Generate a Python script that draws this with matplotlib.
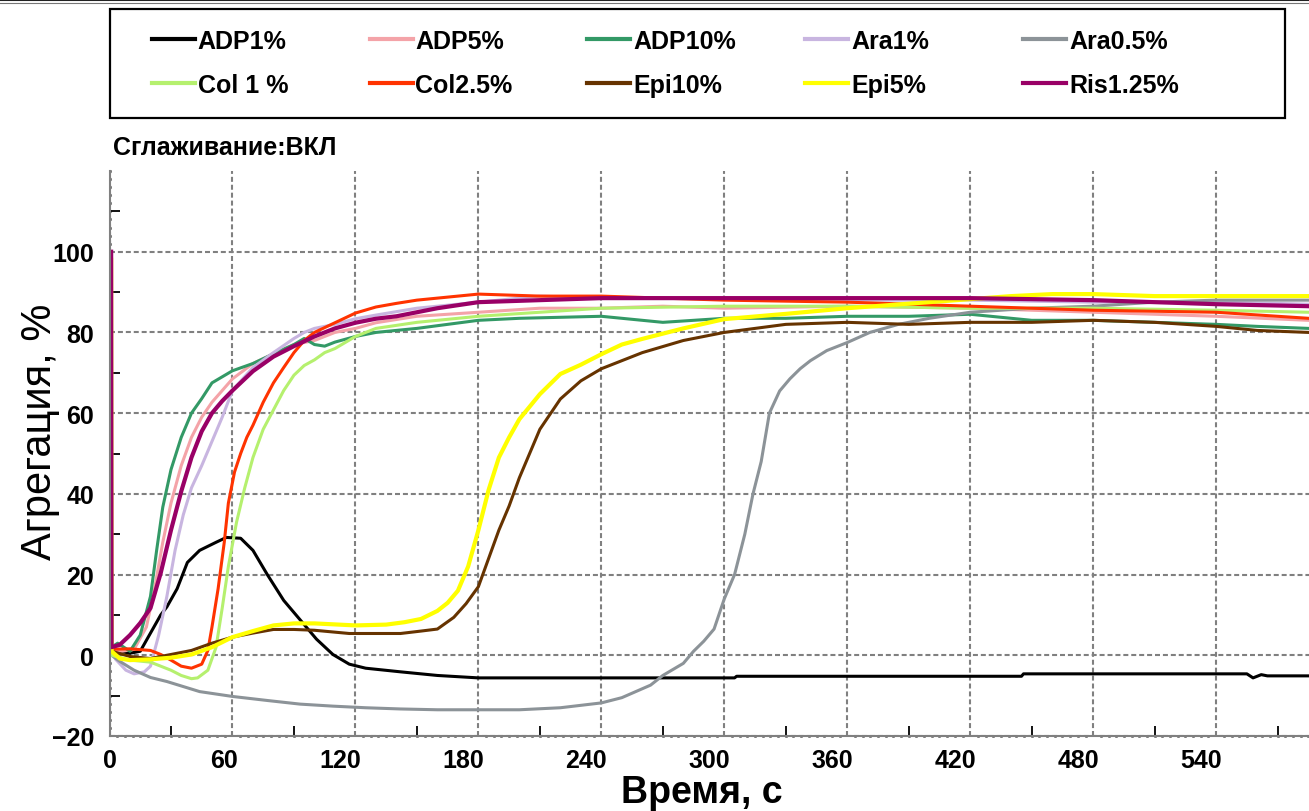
import matplotlib
matplotlib.use("Agg")
import matplotlib.pyplot as plt
from matplotlib.lines import Line2D
from matplotlib.patches import Rectangle
from matplotlib.ticker import MultipleLocator, FixedLocator
import matplotlib.transforms as mtransforms

plt.rcParams['font.family'] = ['Liberation Sans', 'DejaVu Sans']

# ---------------- data (time, s ; aggregation, %) ----------------
labels = ["ADP1%", "ADP5%", "ADP10%", "Ara1%", "Ara0.5%",
          "Col 1 %", "Col2.5%", "Epi10%", "Epi5%", "Ris1.25%"]
colors = ["#000000", "#F4A3A8", "#339966", "#C8B5E0", "#8C9398",
          "#B5F06E", "#FF3300", "#663300", "#FFFF00", "#990066"]

t_adp1 = [0.8, 1, 5, 10, 15, 20, 25, 28, 33, 38, 44, 52, 57, 64, 70, 77, 85, 93, 101, 109,
          117, 125, 142, 160, 180, 240, 305, 306, 445, 446, 555, 558, 562, 565, 585]
v_adp1 = [100, 1.5, 1, 0.5, 1, 5.5, 10, 12, 16.5, 23, 26, 28, 29.2, 29, 26, 20, 13.6, 8.8, 4, 0.2,
          -2.2, -3.2, -4.1, -5, -5.6, -5.6, -5.6, -5.2, -5.2, -4.6, -4.6, -5.6, -4.8, -5.1, -5.1]

t_adp5 = [0.8, 1, 6, 12, 18, 22, 26, 30, 35, 40, 45, 50, 55, 60, 70, 80, 90, 100, 110, 120,
          130, 150, 180, 210, 240, 270, 300, 360, 420, 480, 540, 585]
v_adp5 = [100, 1.5, 1, 1.5, 7, 16.5, 28, 37.7, 47, 54, 59, 62.7, 65.6, 68.5, 72.3, 74.7, 77, 78, 80, 81,
          82.4, 84, 85, 86, 86, 86.5, 86, 86.5, 86, 85, 84, 83]

t_adp10 = [0.8, 1, 4, 10, 15, 20, 23, 26, 30, 35, 40, 45, 50, 55, 60, 70, 80, 90, 95, 100,
           105, 110, 120, 130, 150, 180, 200, 240, 270, 300, 330, 360, 390, 420, 450, 480,
           510, 540, 560, 585]
v_adp10 = [100, 2, 3, 1, 5, 14.6, 26, 36.7, 46, 54, 60, 63.6, 67.5, 69, 70.5, 72.3, 74.7, 77, 78.5, 77,
           76.6, 77.6, 79, 80, 81, 83, 83.5, 84, 82.5, 83.5, 83.5, 84, 84, 84.5, 83, 83,
           82.5, 82, 81.5, 81]

t_ara1 = [0.8, 1, 3, 8, 12, 17, 20, 24, 28, 32, 36, 40, 45, 50, 55, 60, 65, 70, 80, 90,
          95, 100, 110, 120, 130, 150, 180, 210, 240, 300, 360, 420, 480, 540, 585]
v_ara1 = [100, 1, -1, -3.7, -4.6, -4.1, -2.7, 5, 14.6, 26, 34.8, 41.5, 47, 53, 59, 65.6, 68.5, 71.3, 75, 78.5,
          80, 81, 82, 83.4, 84.3, 86, 87.5, 89, 88.5, 88.5, 88, 88, 87.5, 87.5, 87]

t_ara05 = [0.8, 1, 5, 12, 20, 28, 44, 60, 77, 93, 109, 125, 142, 160, 200, 220, 240, 250, 264, 270,
           280, 285, 290, 295, 300, 305, 310, 314, 318, 322, 327, 332, 337, 342, 350, 360,
           371, 385, 400, 420, 450, 480, 510, 540, 585]
v_ara05 = [100, 0, -1.5, -3.7, -5.5, -6.5, -9, -10.2, -11.2, -12.1, -12.6, -13, -13.3, -13.5, -13.5, -13, -11.8, -10.5, -7.4, -5,
           -2, 1, 3.5, 6.5, 14, 20, 30, 40, 48, 60, 65.5, 68.5, 71, 73, 75.5, 77.5,
           80, 82, 83.5, 85, 86, 86.5, 87.5, 88, 88]

t_col1 = [0.8, 1, 10, 20, 30, 35, 40, 43, 48, 52, 55, 58, 62, 66, 70, 75, 80, 85, 90, 95,
          100, 105, 110, 120, 130, 150, 180, 240, 300, 360, 420, 480, 540, 585]
v_col1 = [100, 0, -1.2, -1.7, -3.7, -5, -5.8, -5.6, -3.7, 2, 11.7, 22, 33, 41.5, 49, 56, 60.8, 65.6, 69.4, 71.8,
          73.2, 75, 76, 79, 81, 82.5, 84, 86, 86.5, 86.5, 86, 86, 85.5, 85]

t_col25 = [0.8, 1, 10, 20, 25, 30, 35, 40, 45, 48, 50, 53, 56, 58, 61, 64, 67, 70, 75, 80,
           85, 90, 95, 100, 110, 120, 130, 140, 150, 170, 180, 210, 240, 300, 360, 420,
           480, 540, 585]
v_col25 = [100, 1.5, 1.6, 1.2, 0.2, -1.2, -2.7, -3.2, -2.2, 1.2, 7, 16.5, 28, 37.7, 45.4, 50, 54, 57, 62.7, 67.5,
           71.3, 75, 78, 80, 82.4, 84.8, 86.3, 87.2, 88, 89, 89.5, 89, 89, 88, 87.5, 86.5,
           85.5, 85, 83.5]

t_epi10 = [0.8, 1, 10, 20, 30, 40, 50, 60, 70, 80, 90, 100, 117, 142, 152, 160, 168, 174, 180, 185,
           190, 195, 200, 210, 220, 230, 240, 260, 280, 300, 330, 360, 390, 420, 450, 480,
           510, 540, 560, 585]
v_epi10 = [100, 1, -0.3, -0.8, 0.2, 1.2, 3, 4.5, 5.5, 6.4, 6.4, 6.2, 5.4, 5.4, 6, 6.5, 9.4, 12.8, 17, 24,
           31, 37, 44, 56, 63.5, 68, 71, 75, 78, 80, 82, 82.5, 82, 82.5, 82.5, 83,
           82.5, 81.5, 80.5, 80]

t_epi5 = [0.8, 1, 5, 10, 20, 30, 40, 50, 60, 70, 80, 90, 100, 120, 135, 144, 152, 160, 165, 170,
          175, 180, 185, 190, 195, 200, 210, 220, 230, 240, 250, 260, 280, 300, 330, 360,
          400, 440, 460, 480, 510, 540, 585]
v_epi5 = [98, 1, -0.8, -1.2, -1, -0.6, 0.2, 2, 4.5, 6, 7.4, 7.9, 7.9, 7.4, 7.6, 8.2, 9, 11, 13, 16,
          22, 31, 41, 49, 54, 58.5, 64.7, 69.7, 72, 74.6, 77, 78.4, 81, 83.3, 84.6, 86,
          87.5, 89, 89.5, 89.5, 89, 89, 89]

t_ris = [0.8, 1, 5, 10, 15, 20, 25, 30, 35, 40, 45, 50, 55, 60, 70, 80, 90, 100, 110, 120,
         130, 140, 160, 180, 210, 240, 300, 360, 420, 480, 540, 585]
v_ris = [100, 2, 2.6, 5, 8, 11.7, 20.4, 31, 40.6, 49, 55.5, 60, 63, 65.6, 70.4, 74, 76.6, 79, 81, 82.4,
         83.4, 84, 86, 87.5, 88, 88.5, 88.5, 88.5, 88.5, 88, 87, 86.5]

series_t = [t_adp1, t_adp5, t_adp10, t_ara1, t_ara05, t_col1, t_col25, t_epi10, t_epi5, t_ris]
series_v = [v_adp1, v_adp5, v_adp10, v_ara1, v_ara05, v_col1, v_col25, v_epi10, v_epi5, v_ris]

x_major = [0, 60, 120, 180, 240, 300, 360, 420, 480, 540]
x_ticks_in = [30, 90, 150, 210, 270, 330, 390, 450, 510, 570]
y_major = [-20, 0, 20, 40, 60, 80, 100]
y_ticks_in = [-10, 10, 30, 50, 70, 90, 110]

# ---------------- figure ----------------
W, H = 1309, 812
fig = plt.figure(figsize=(W / 100, H / 100), dpi=100)
ax = fig.add_axes([109.5 / W, 75 / H, 1199.5 / W, 565 / H])
ax.set_xlim(0, 585.3)
ax.set_ylim(-20, 120)

lines = []
for t, v, c, lab in zip(series_t, series_v, colors, labels):
    lw = 3.0 if c in ("#FFFF00", "#990066") else 2.2
    ln, = ax.plot(t, v, color=c, lw=lw, label=lab)
    lines.append(ln)

# axes styling
for s in ['top', 'right']:
    ax.spines[s].set_visible(False)
for s in ['left', 'bottom']:
    ax.spines[s].set_color('#808080')
    ax.spines[s].set_linewidth(1.5)

ax.xaxis.set_major_locator(FixedLocator(x_major))
ax.yaxis.set_major_locator(FixedLocator(y_major))
ax.xaxis.set_minor_locator(MultipleLocator(3.75))
ax.yaxis.set_minor_locator(MultipleLocator(2))
ax.tick_params(which='major', length=0, labelsize=18)
ax.tick_params(axis='x', which='major', pad=9)
ax.tick_params(axis='y', which='major', pad=11)
ax.tick_params(which='minor', length=2.0, width=1.8, direction='inout', color='black')
for lab in ax.get_xticklabels() + ax.get_yticklabels():
    lab.set_fontweight('bold')

ax.grid(True, which='major', color='#808080', lw=1.5, linestyle=(0, (2.4, 1.4)))
ax.set_axisbelow(True)

# shift x tick labels a little to the left, like the reference
for val, lab in zip(x_major, ax.get_xticklabels()):
    dx = 0 if val == 0 else (-8 if val == 60 else -15)
    lab.set_transform(lab.get_transform() + mtransforms.Affine2D().translate(dx, 0))

# inward ticks between gridlines
secx = ax.secondary_xaxis('bottom')
secx.set_xticks(x_ticks_in)
secx.tick_params(direction='in', length=7, width=1.3, color='black', labelbottom=False)
secx.spines['bottom'].set_visible(False)
secy = ax.secondary_yaxis('left')
secy.set_yticks(y_ticks_in)
secy.tick_params(direction='in', length=7, width=1.3, color='black', labelleft=False)
secy.spines['left'].set_visible(False)

# axis titles and caption
fig.text(40 / W, 1 - 432 / H, "Агрегация, %", rotation=90, ha='center', va='center', fontsize=30)
fig.text(702 / W, 1 - 793 / H, "Время, с", ha='center', va='center', fontsize=27, fontweight='bold')
fig.text(113 / W, 1 - 148 / H, "Сглаживание:ВКЛ", ha='left', va='center', fontsize=18, fontweight='bold')

# legend: five columns of two entries
col_x = [151.5, 369.5, 587, 805.5, 1023]
for k in range(5):
    hs = [lines[k], lines[k + 5]]
    leg = fig.legend(hs, [h.get_label() for h in hs], loc='upper left',
                     bbox_to_anchor=(col_x[k] / W, 1 - 30 / H), frameon=False,
                     fontsize=18, handlelength=1.72, handletextpad=0.12,
                     borderpad=0, borderaxespad=0, labelspacing=0.8)
    for txt in leg.get_texts():
        txt.set_fontweight('bold')
    for l in leg.get_lines():
        l.set_linewidth(3)

fig.add_artist(Rectangle((110 / W, 1 - 119 / H), 1175 / W, 109 / H, transform=fig.transFigure,
                         fill=False, edgecolor='black', lw=1.6))
# top border
fig.add_artist(Line2D([0, 1], [1 - 1 / H, 1 - 1 / H], transform=fig.transFigure, color='#222222', lw=1.5))
fig.add_artist(Line2D([0, 1], [1 - 4 / H, 1 - 4 / H], transform=fig.transFigure, color='#777777', lw=0.8))

fig.savefig("out.png", dpi=100)
